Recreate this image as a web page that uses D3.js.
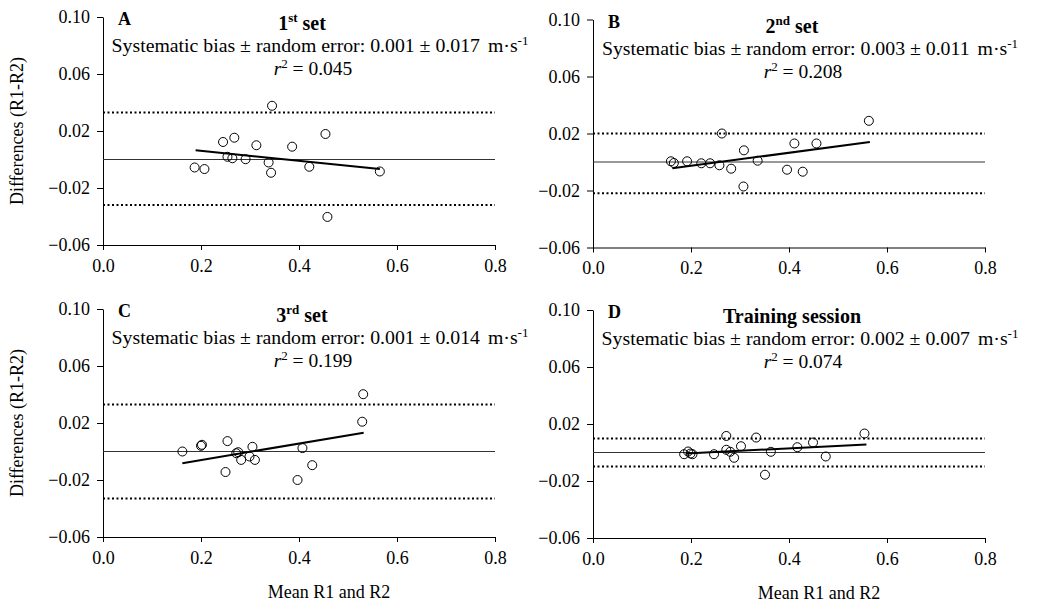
<!DOCTYPE html>
<meta charset="utf-8">
<style>
  body { margin: 0; background: #fff; }
  svg text { font-family: "Liberation Serif", Tinos, "Times New Roman", "DejaVu Serif", serif !important; fill: #000; }
</style>
<svg width="1048" height="603"></svg>
<script src="https://d3js.org/d3.v7.min.js"></script>
<script>
  // data
  var letters = ["A", "B", "C", "D"];
  var titleMain = ["1", "2", "3", "Training session"];
  var titleSup = ["st", "nd", "rd", ""];
  var biasText = ["0.001 \u00b1 0.017", "0.003 \u00b1 0.011", "0.001 \u00b1 0.014", "0.002 \u00b1 0.007"];
  var r2Text = ["0.045", "0.208", "0.199", "0.074"];
  var xTicks = [0, 0.2, 0.4, 0.6, 0.8];
  var yTicks = [0.10, 0.06, 0.02, -0.02, -0.06];

  var meanA = [0.187, 0.207, 0.245, 0.268, 0.254, 0.264, 0.291, 0.313, 0.345, 0.338, 0.343, 0.386, 0.421, 0.454, 0.458, 0.565];
  var diffA = [-0.0056, -0.0067, 0.0123, 0.0153, 0.0019, 0.0009, 0.0002, 0.0100, 0.0377, -0.0021, -0.0093, 0.0090, -0.0051, 0.0179, -0.0403, -0.0084];
  var meanB = [0.159, 0.165, 0.192, 0.221, 0.239, 0.258, 0.263, 0.282, 0.307, 0.308, 0.336, 0.396, 0.411, 0.428, 0.456, 0.563];
  var diffB = [0.0005, -0.0007, 0.0005, -0.0009, -0.0009, -0.0023, 0.0200, -0.0047, -0.0172, 0.0082, 0.0009, -0.0054, 0.0130, -0.0068, 0.0130, 0.0289];
  var meanC = [0.162, 0.200, 0.202, 0.254, 0.250, 0.272, 0.276, 0.282, 0.299, 0.305, 0.310, 0.397, 0.407, 0.427, 0.529, 0.531];
  var diffC = [0.0000, 0.0040, 0.0047, 0.0073, -0.0144, -0.0012, -0.0005, -0.0059, -0.0035, 0.0033, -0.0059, -0.0200, 0.0024, -0.0096, 0.0209, 0.0402];
  var meanD = [0.186, 0.194, 0.199, 0.203, 0.247, 0.272, 0.272, 0.280, 0.288, 0.302, 0.333, 0.351, 0.363, 0.417, 0.449, 0.475, 0.554];
  var diffD = [-0.0012, 0.0007, -0.0007, -0.0012, -0.0012, 0.0116, 0.0019, 0.0005, -0.0037, 0.0044, 0.0105, -0.0156, 0.0005, 0.0037, 0.0070, -0.0028, 0.0133];

  var upperLimit = [0.033, 0.020, 0.033, 0.0099];
  var lowerLimit = [-0.032, -0.022, -0.033, -0.0099];
  // regression line end points [x, y]
  var fitA = [[0.189, 0.0065], [0.565, -0.0067]];
  var fitB = [[0.162, -0.0044], [0.565, 0.0140]];
  var fitC = [[0.162, -0.0082], [0.532, 0.0132]];
  var fitD = [[0.190, -0.0007], [0.558, 0.0056]];

  var means = [meanA, meanB, meanC, meanD],
      diffs = [diffA, diffB, diffC, diffD],
      fits = [fitA, fitB, fitC, fitD];

  var svg = d3.select("svg");
  var pw = 392, ph = 228;
  var origins = [[103, 17], [593, 19.5], [103, 309], [593, 310]];

  for (var p = 0; p < 4; p++) {
    var g = svg.append("g")
      .attr("transform", "translate(" + origins[p][0] + "," + origins[p][1] + ")");
    var x = d3.scaleLinear().domain([0, 0.8]).range([0, pw]);
    var y = d3.scaleLinear().domain([-0.06, 0.10]).range([ph, 0]);

    var yAxis = g.append("g")
      .call(d3.axisLeft(y).tickValues(yTicks).tickSize(6).tickSizeOuter(0).tickFormat(d3.format(".2f")));
    var xAxis = g.append("g")
      .attr("transform", "translate(0," + ph + ")")
      .call(d3.axisBottom(x).tickValues(xTicks).tickSize(5).tickSizeOuter(0).tickFormat(d3.format(".1f")));
    [yAxis, xAxis].forEach(function(a) {
      a.attr("font-family", null);
      a.selectAll("text").style("font-size", "18px").attr("fill", "#000");
      a.selectAll("line, path").attr("stroke", "#000");
    });
    yAxis.selectAll("text").attr("x", -13);
    xAxis.selectAll("text").attr("y", 14);

    // zero line and limits of agreement
    g.append("line").attr("x1", 0).attr("x2", pw).attr("y1", y(0)).attr("y2", y(0))
      .attr("stroke", "#333").attr("stroke-width", 1);
    [upperLimit[p], lowerLimit[p]].forEach(function(v) {
      g.append("line").attr("x1", 0).attr("x2", pw).attr("y1", y(v)).attr("y2", y(v))
        .attr("stroke", "#000").attr("stroke-width", 2).attr("stroke-dasharray", "2,2.5");
    });

    // points
    g.selectAll("circle").data(d3.zip(means[p], diffs[p])).enter().append("circle")
      .attr("cx", function(d) { return x(d[0]); })
      .attr("cy", function(d) { return y(d[1]); })
      .attr("r", 4.5)
      .attr("fill", "none").attr("stroke", "#000").attr("stroke-width", 1);

    // regression
    g.append("path")
      .attr("d", d3.line().x(function(d) { return x(d[0]); }).y(function(d) { return y(d[1]); })(fits[p]))
      .attr("stroke", "#000").attr("stroke-width", 2).attr("fill", "none");

    // texts
    g.append("text").attr("x", 15).attr("y", 8).style("font-size", "18px").style("font-weight", "bold").text(letters[p]);
    var t = g.append("text").attr("x", pw / 2 + 3).attr("y", 13).attr("text-anchor", "middle")
      .style("font-size", "20px").style("font-weight", "bold");
    t.append("tspan").text(titleMain[p]);
    if (titleSup[p]) {
      t.append("tspan").attr("dy", -8).style("font-size", "13px").text(titleSup[p]);
      t.append("tspan").attr("dy", 8).text(" set");
    }
    var s = g.append("text").attr("x", pw / 2 + 21).attr("y", 35).attr("text-anchor", "middle")
      .style("font-size", "19.8px");
    s.append("tspan").text("Systematic bias \u00b1 random error: " + biasText[p]);
    s.append("tspan").attr("dx", 8).text("m\u00b7s");
    s.append("tspan").attr("dy", -7).style("font-size", "13px").text("-1");
    var r = g.append("text").attr("x", pw / 2 + 14).attr("y", 58).attr("text-anchor", "middle")
      .style("font-size", "19.5px");
    r.append("tspan").style("font-style", "italic").text("r");
    r.append("tspan").attr("dy", -7).style("font-size", "13px").text("2");
    r.append("tspan").attr("dy", 7).text(" = " + r2Text[p]);

    if (p % 2 == 0) {
      g.append("text").attr("transform", "translate(-80," + (ph / 2) + ") rotate(-90)")
        .attr("text-anchor", "middle").style("font-size", "18px").text("Differences (R1-R2)");
    }
    if (p >= 2) {
      g.append("text").attr("x", pw / 2 + 30).attr("y", ph + 61).attr("text-anchor", "middle")
        .style("font-size", "18px").text("Mean R1 and R2");
    }
  }
</script>
